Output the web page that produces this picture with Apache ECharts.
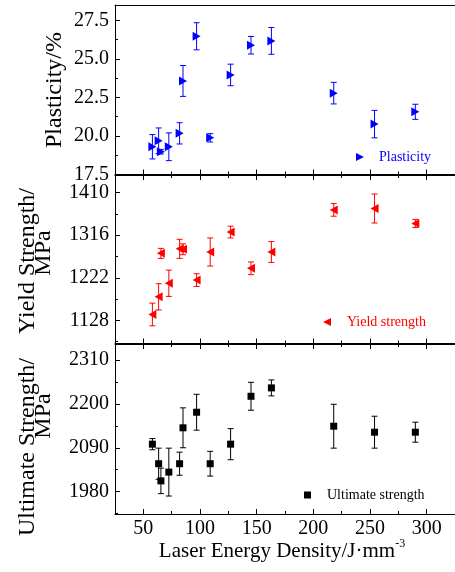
<!DOCTYPE html>
<html><head><meta charset="utf-8">
<script src="https://cdn.jsdelivr.net/npm/echarts@6/dist/echarts.min.js"></script>
<style>html,body{margin:0;padding:0;background:#fff}#c{width:455px;height:572px}</style>
</head><body><div id="c"></div>
<script>
// ---- data ----
const energy = [58, 63.5, 65.5, 72.5, 82, 85, 97, 109, 127, 145, 163, 218, 254, 290];
const plasticity = [19.30, 19.69, 18.98, 19.30, 20.17, 23.57, 26.47, 19.88, 23.96, 25.89, 26.17, 22.78, 20.77, 21.57];
const plasticityErr = [0.79, 0.83, 0.15, 0.90, 0.69, 1.00, 0.88, 0.27, 0.70, 0.57, 0.87, 0.70, 0.89, 0.49];
const yieldStrength = [1141, 1180, 1276, 1210, 1286, 1285, 1217, 1279, 1323, 1243, 1279, 1372, 1375, 1342];
const yieldErr = [25, 29, 11, 29, 21, 12, 14, 31, 13, 14, 23, 14, 32, 9];
const ultimateStrength = [2099, 2050, 2007, 2029, 2050, 2140, 2179, 2050, 2099, 2219, 2240, 2144, 2129, 2129];
const ultimateErr = [14, 39, 32, 60, 29, 50, 45, 31, 39, 35, 20, 55, 40, 25];

const xTicks = [50, 100, 150, 200, 250, 300];
const xMinorTicks = [75, 125, 175, 225, 275];
const plastTicks = [17.5, 20.0, 22.5, 25.0, 27.5];
const plastMinor = [18.75, 21.25, 23.75, 26.25];
const yieldTicks = [1128, 1222, 1316, 1410];
const yieldMinor = [1081, 1175, 1269, 1363];
const ultTicks = [1980, 2090, 2200, 2310];
const ultMinor = [1925, 2035, 2145, 2255];

const FONT = "'Liberation Serif','Times New Roman',serif";
const RIGHT_TRI = 'path://M0,0L10,5L0,10Z';
const LEFT_TRI = 'path://M10,0L0,5L10,10Z';

const grids = [
  {left: 115, width: 342, top: 5, height: 169.5},
  {left: 115, width: 342, top: 175, height: 168.5},
  {left: 115, width: 342, top: 344, height: 170}
];

const xAxes = [], yAxes = [];
function addX(gi, pos, line, ticks, len, labels) {
  xAxes.push({
    gridIndex: gi, type: 'value', min: 25, max: 325, position: pos,
    axisLine: {show: line, onZero: false, lineStyle: {color: '#000', width: 1}},
    axisTick: ticks ? {show: true, inside: true, length: len, customValues: ticks, lineStyle: {color: '#000'}} : {show: false},
    axisLabel: labels ? {show: true, customValues: labels, fontFamily: FONT, fontSize: 20, color: '#000', margin: 5} : {show: false},
    splitLine: {show: false}
  });
  return xAxes.length - 1;
}
function addY(gi, min, max, line, ticks, len, labels) {
  yAxes.push({
    gridIndex: gi, type: 'value', min: min, max: max, position: 'left',
    axisLine: {show: line, onZero: false, lineStyle: {color: '#000', width: 1}},
    axisTick: ticks ? {show: true, inside: true, length: len, customValues: ticks, lineStyle: {color: '#000'}} : {show: false},
    axisLabel: labels ? {show: true, customValues: labels, fontFamily: FONT, fontSize: 20, color: '#000', margin: 6,
      formatter: v => (gi === 0 ? v.toFixed(1) : String(v))} : {show: false},
    splitLine: {show: false}
  });
  return yAxes.length - 1;
}

const ranges = [[17.5, 28.5], [1077, 1449], [1924, 2350]];
const majors = [plastTicks, yieldTicks, ultTicks];
const minors = [plastMinor, yieldMinor, ultMinor];
const mainX = [], mainY = [];
for (let i = 0; i < 3; i++) {
  mainX.push(addX(i, 'bottom', true, xTicks, 5, i === 2 ? xTicks : null));
  addX(i, 'bottom', false, xMinorTicks, 3, null);
  if (i === 0) addX(i, 'top', true, null, 0, null);
  else { addX(i, 'top', true, xTicks, 5, null); addX(i, 'top', false, xMinorTicks, 3, null); }
  mainY.push(addY(i, ranges[i][0], ranges[i][1], true, majors[i], 5, majors[i]));
  addY(i, ranges[i][0], ranges[i][1], false, minors[i], 3, null);
}

function errRender(color) {
  return function (params, api) {
    const x = api.value(0), y = api.value(1), e = api.value(2);
    const t = api.coord([x, y + e]), b = api.coord([x, y - e]);
    const cw = 3;
    const st = {stroke: color, lineWidth: 1};
    return {type: 'group', children: [
      {type: 'line', shape: {x1: t[0], y1: t[1], x2: b[0], y2: b[1]}, style: st},
      {type: 'line', shape: {x1: t[0] - cw, y1: t[1], x2: t[0] + cw, y2: t[1]}, style: st},
      {type: 'line', shape: {x1: b[0] - cw, y1: b[1], x2: b[0] + cw, y2: b[1]}, style: st}
    ]};
  };
}

const vals = [plasticity, yieldStrength, ultimateStrength];
const errs = [plasticityErr, yieldErr, ultimateErr];
const colors = ['#0000ff', '#ff0000', '#000000'];
const sNames = ['Plasticity', 'Yield strength', 'Ultimate strength'];
const symbols = [RIGHT_TRI, LEFT_TRI, 'rect'];
const sizes = [[8, 9], [8, 9], [7, 7]];
const series = [];
for (let i = 0; i < 3; i++) {
  series.push({
    type: 'custom', name: sNames[i] + ' error', xAxisIndex: mainX[i], yAxisIndex: mainY[i],
    renderItem: errRender(colors[i]), encode: {x: 0, y: 1},
    data: energy.map((x, k) => [x, vals[i][k], errs[i][k]]), z: 1, silent: true
  });
  series.push({
    type: 'scatter', name: sNames[i], xAxisIndex: mainX[i], yAxisIndex: mainY[i],
    symbol: symbols[i], symbolSize: sizes[i],
    itemStyle: {color: colors[i], opacity: 1},
    data: energy.map((x, k) => [x, vals[i][k]]), z: 3
  });
}

const legendPos = [[356, 150], [323, 315], [304, 488]];
const textPad = [10, 11, 11];
const legends = [0, 1, 2].map(i => ({
  data: [{name: sNames[i], icon: symbols[i]}], left: legendPos[i][0], top: legendPos[i][1], padding: 0,
  itemWidth: sizes[i][0], itemHeight: sizes[i][1], selectedMode: false,
  textStyle: {fontFamily: FONT, fontSize: 14, color: colors[i], padding: [0, 0, 0, textPad[i]]}
}));

// axis titles
function vText(text, x, y) {
  return {type: 'text', x: x, y: y, rotation: Math.PI / 2, silent: true,
    style: {text: text, fill: '#000', font: "24px " + FONT, align: 'center', verticalAlign: 'middle'}};
}
const graphics = [
  vText('Plasticity/%', 55, 90),
  vText('Yield Strength/', 28, 261),
  vText('MPa', 44, 253),
  vText('Ultimate Strength/', 28, 447),
  vText('MPa', 44, 416),
  {type: 'text', x: 282, y: 551, silent: true, style: {
    text: '{a|Laser Energy Density/J·mm}{sup|-3}', align: 'center', verticalAlign: 'middle',
    font: "21px " + FONT, fill: '#000',
    rich: {
      a: {font: "21px " + FONT, fill: '#000'},
      sup: {font: "12px " + FONT, fill: '#000', verticalAlign: 'top', padding: [0, 0, 14, 0]}
    }
  }}
];

const chart = echarts.init(document.getElementById('c'), null, {renderer: 'canvas'});
chart.setOption({
  animation: false, backgroundColor: '#fff', textStyle: {fontFamily: FONT},
  grid: grids, xAxis: xAxes, yAxis: yAxes, series: series, legend: legends, graphic: graphics
});
</script></body></html>
